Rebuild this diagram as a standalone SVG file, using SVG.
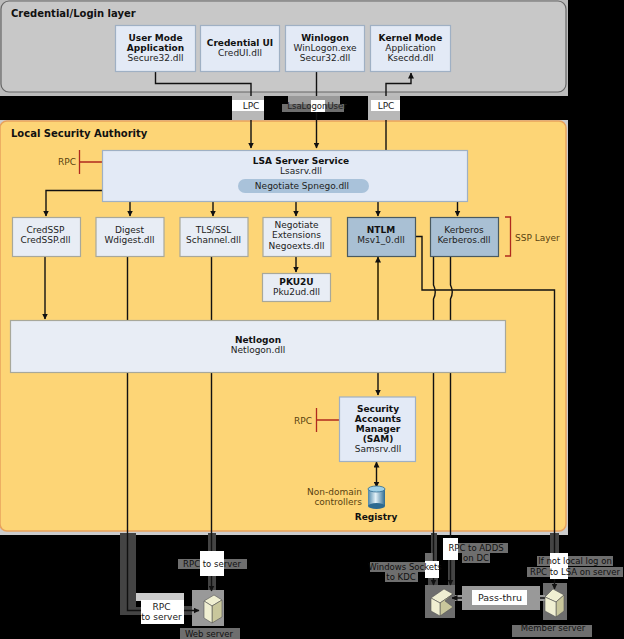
<svg xmlns="http://www.w3.org/2000/svg" width="624" height="639" viewBox="0 0 624 639">
<style>
text{font-family:"DejaVu Sans",Verdana,sans-serif;font-size:9px;fill:#222;text-anchor:middle}
.b{font-weight:bold;fill:#111}
.h{font-size:10px}
.l{text-anchor:start}
.e{text-anchor:end}
.o{fill:#5a4310}
.box{fill:#e3eaf6;stroke:#9fb0c4;stroke-width:1.2}
.pale{fill:#e8edf5;stroke:#a8a89a;stroke-width:1.2}
.dark{fill:#a9c0d4;stroke:#4a5a60;stroke-width:1.2}
.c{fill:none;stroke:#111;stroke-width:1.4}
.k{fill:none;stroke:#000;stroke-width:1.4}
.r{fill:none;stroke:#b02a1e;stroke-width:1.3}
.w{fill:#fff}
.p{fill:#6e6e6e}
.q{fill:#444}
.m{fill:#999}
.lt{fill:#ccc}
.s{fill:#f0efd2;stroke:#555;stroke-width:.6}
.f{fill:#c9c79c;stroke:#555;stroke-width:.6}
.t{fill:#111;font-size:8.500px}
</style>
<defs>
<marker id="a" viewBox="0 0 6 6" refX="5.500" refY="3" markerWidth="6" markerHeight="6" orient="auto-start-reverse" markerUnits="userSpaceOnUse"><path d="M0 0L6 3L0 6Z" fill="#111"/></marker>
<linearGradient id="cyl" x1="0" x2="1" y1="0" y2="0"><stop offset="0" stop-color="#4d86a8"/><stop offset=".45" stop-color="#e4f2f8"/><stop offset="1" stop-color="#2d6a90"/></linearGradient>
</defs>
<rect width="624" height="639" fill="#000"/>
<g id="credential-layer"><rect x="0" y="0" width="568" height="96" fill="#bbb"/><rect x="1" y="1" width="565" height="91" rx="8" fill="#c8c8c8" stroke="#666" stroke-width="1.2"/><text class="b l h" x="11" y="17">Credential/Login layer</text></g>
<g id="lsa"><rect x="0" y="120" width="568" height="415" fill="#ccc"/><rect x="0" y="121" width="566" height="410" rx="7" fill="#fdd576" stroke="#e8a25c" stroke-width="1.500"/><text class="b l h" x="11" y="137">Local Security Authority</text></g>

<g id="halos">
<rect class="q" x="120" y="533" width="16" height="82"/>
<rect class="q" x="120" y="607" width="22" height="8"/>
<rect class="q" x="183" y="606" width="12" height="9"/>
<rect class="q" x="208" y="533" width="8" height="18"/>
<rect class="q" x="208" y="575" width="8" height="16"/>
<rect class="q" x="431" y="533" width="6" height="28"/>
<rect class="p" x="425" y="553" width="8" height="9"/>
<rect class="q" x="448" y="560" width="7" height="26"/>
<rect class="q" x="428" y="578" width="10" height="8"/>
<rect class="q" x="550" y="533" width="9" height="20"/>
<rect class="m" x="192" y="590" width="32" height="36"/>
<rect class="p" x="425" y="585" width="30" height="33"/>
<rect class="p" x="543" y="583" width="24" height="37"/>
<rect class="m" x="455" y="595" width="90" height="6"/>
</g>

<g id="connectors">
<path class="c" d="M155.500 71V83.500H251V148" marker-end="url(#a)"/>
<path class="c" d="M316.500 71V148" marker-end="url(#a)"/>
<path class="c" d="M386 156V83.500H411V73" marker-end="url(#a)"/>
<path class="c" d="M102 190.500H46V216" marker-end="url(#a)"/>
<path class="c" d="M130 201V216" marker-end="url(#a)"/>
<path class="c" d="M213 201V216" marker-end="url(#a)"/>
<path class="c" d="M296 201V216" marker-end="url(#a)"/>
<path class="c" d="M369 182.500H457.500V216" marker-end="url(#a)"/>
<path class="c" d="M369 188.500H378V216" marker-end="url(#a)"/>
<path class="c" d="M296 256V272" marker-end="url(#a)"/>
<path class="c" d="M45 256V319" marker-end="url(#a)"/>
<path d="M378 320V257" marker-end="url(#a)" fill="none" stroke="#4a3a10" stroke-width="1.800"/>
<path class="c" d="M378 372V395" marker-end="url(#a)" stroke="#4a3a10"/>
<path class="c" d="M376.500 462V487" marker-start="url(#a)" marker-end="url(#a)"/>
<path class="c" d="M127.500 256V320M127.500 372V610.500H199" marker-end="url(#a)"/>
<path class="c" d="M211.500 256V320M211.500 372V591" marker-end="url(#a)"/>
<path class="c" d="M433.500 256V285Q437 292 433.500 299V320M433.500 372V585" marker-end="url(#a)"/>
<path class="c" d="M450.500 256V285Q454 292 450.500 299V320M450.500 372V585" marker-end="url(#a)"/>
<path class="c" d="M415 236.500H422V290H554.500V589" marker-end="url(#a)"/>
<path class="c" d="M545 598H452" marker-end="url(#a)"/>
</g>

<g id="rpc-top"><path class="r" d="M79.500 150V174M79.500 162H102"/><text class="o e" x="76" y="165">RPC</text></g>
<g id="rpc-sam"><path class="r" d="M316.500 408V432M316.500 420H339"/><text class="o e" x="312" y="424">RPC</text></g>
<g id="ssp-layer"><path class="r" d="M505 217H510.500V256H505" stroke-width="1.500"/><text class="o l" x="515" y="241">SSP Layer</text></g>

<g id="user-mode"><rect class="box" x="115.500" y="25.500" width="80" height="46"/><text class="b" x="155.500" y="41">User Mode</text><text class="b" x="155.500" y="51">Application</text><text x="155.500" y="61">Secure32.dll</text></g>
<g id="credential-ui"><rect class="box" x="200.500" y="25.500" width="79" height="46"/><text class="b" x="240" y="46">Credential UI</text><text x="240" y="56">CredUI.dll</text></g>
<g id="winlogon"><rect class="box" x="285.500" y="25.500" width="79" height="46"/><text class="b" x="325" y="41">Winlogon</text><text x="325" y="51">WinLogon.exe</text><text x="325" y="61">Secur32.dll</text></g>
<g id="kernel-mode"><rect class="box" x="370.500" y="25.500" width="80" height="46"/><text class="b" x="410.500" y="41">Kernel Mode</text><text x="410.500" y="51">Application</text><text x="410.500" y="61">Ksecdd.dll</text></g>

<g id="lpc-1"><rect x="232" y="96" width="32" height="24" fill="#b8b8b8"/><rect x="232" y="100" width="32" height="11" class="w"/><text x="251" y="109">LPC</text></g>
<g id="lpc-2"><rect x="288" y="96" width="52" height="16" class="m"/><rect x="282" y="104" width="62" height="8" class="p"/><rect x="311" y="100" width="14" height="12" class="w"/><text x="317" y="109" style="font-size:8.500px">LsaLogonUser</text></g>
<g id="lpc-3"><rect x="368" y="96" width="32" height="24" fill="#b8b8b8"/><rect x="371" y="100" width="29" height="11" class="w"/><text x="386" y="109">LPC</text></g>

<g id="lsa-server"><rect class="box" x="102.500" y="150.500" width="365" height="51"/><text class="b" x="301" y="164">LSA Server Service</text><text x="301" y="174">Lsasrv.dll</text></g>
<g id="negotiate"><rect x="238" y="179" width="131" height="14" rx="7" fill="#a9c2da"/><text x="302" y="189">Negotiate Spnego.dll</text></g>
<g id="credssp"><rect class="pale" x="12.500" y="217.500" width="68" height="39"/><text x="45.500" y="233">CredSSP</text><text x="45.500" y="243">CredSSP.dll</text></g>
<g id="digest"><rect class="pale" x="96" y="217.500" width="68" height="39"/><text x="129.500" y="233">Digest</text><text x="129.500" y="243">Wdigest.dll</text></g>
<g id="tls"><rect class="pale" x="180" y="217.500" width="68" height="39"/><text x="213.500" y="233">TLS/SSL</text><text x="213.500" y="243">Schannel.dll</text></g>
<g id="negoexts"><rect class="pale" x="263" y="217.500" width="68" height="39"/><text x="296.500" y="228">Negotiate</text><text x="296.500" y="238">Extensions</text><text x="296.500" y="249">Negoexts.dll</text></g>
<g id="ntlm"><rect class="dark" x="347.500" y="217.500" width="68" height="39"/><text class="b" x="381" y="233">NTLM</text><text x="381" y="243">Msv1_0.dll</text></g>
<g id="kerberos"><rect class="dark" x="430.500" y="217.500" width="68" height="39"/><text x="464" y="233">Kerberos</text><text x="464" y="243">Kerberos.dll</text></g>
<g id="pku2u"><rect class="pale" x="262.500" y="273.500" width="68" height="28"/><text class="b" x="296.500" y="285">PKU2U</text><text x="296.500" y="295">Pku2ud.dll</text></g>
<g id="netlogon"><rect class="pale" x="10.500" y="320.500" width="495" height="52"/><text class="b" x="258" y="343">Netlogon</text><text x="258" y="353">Netlogon.dll</text></g>
<g id="sam"><rect class="box" x="339.500" y="397" width="76" height="64.500"/><text class="b" x="378" y="412">Security</text><text class="b" x="378" y="422">Accounts</text><text class="b" x="378" y="432">Manager</text><text class="b" x="378" y="442">(SAM)</text><text x="378" y="452">Samsrv.dll</text></g>
<g id="registry"><rect x="368" y="489" width="17" height="17" fill="url(#cyl)"/><ellipse cx="376.500" cy="506" rx="8.500" ry="3" fill="#2d6a90"/><ellipse cx="376.500" cy="489" rx="8.500" ry="3" fill="#9fd0e6" stroke="#2d6a90" stroke-width=".8"/><text class="b" x="376" y="520">Registry</text><text class="o e" x="362" y="495">Non-domain</text><text class="o e" x="362" y="505">controllers</text></g>

<g id="rpc-server-1"><rect x="136" y="593" width="48" height="8" class="lt"/><rect x="141" y="600" width="43" height="24" class="w"/><text x="161.500" y="610">RPC</text><text x="161.500" y="620">to server</text></g>
<g id="rpc-server-2"><rect x="200" y="551" width="24" height="25" class="w"/><rect x="178" y="559" width="22" height="10" class="p"/><rect x="224" y="559" width="23" height="10" class="p"/><text x="212" y="567" class="t">RPC to server</text></g>
<g id="web-server"><path class="s" d="M204 601L214 595L222 600L212 606Z"/><path class="f" d="M222 600V617L212 623V606Z"/><path class="s" d="M204 601V618L212 623V606Z"/><rect x="180" y="628" width="60" height="11" class="p"/><text x="209" y="637" class="t">Web server</text></g>
<g id="dc"><path class="s" d="M431 598L444 589L453 594L440 603Z"/><path class="f" d="M453 594L445 601L453 607L440 616V603Z"/><path class="s" d="M431 598V611L440 616V603Z"/></g>
<g id="member-server"><path class="s" d="M545 597L553 589L564 595L556 602Z"/><path class="f" d="M564 595V611L556 617V602Z"/><path class="s" d="M545 597V611L556 617V602Z"/><rect x="512" y="625" width="80" height="12" class="p"/><text x="553" y="631" class="t">Member server</text></g>
<g id="sockets-label"><rect x="370" y="562" width="55" height="10" class="p"/><rect x="425" y="561" width="14" height="17" class="w"/><rect x="385" y="572" width="33" height="10" class="p"/><text x="405" y="570" class="t">Windows Sockets</text><text x="401" y="580" class="t">to KDC</text></g>
<g id="rpc-ad-label"><rect x="458" y="543" width="50" height="10" class="p"/><rect x="462" y="553" width="28" height="10" class="p"/><rect x="443" y="538" width="15" height="22" class="w"/><text x="476" y="551" class="t">RPC to ADDS</text><text x="476" y="561" class="t">on DC</text></g>
<g id="local-label"><rect x="537" y="556" width="76" height="10" class="p"/><rect x="527" y="567" width="96" height="10" class="p"/><rect x="550" y="553" width="18" height="26" class="w"/><text x="575" y="564" class="t">If not local log on</text><text x="575" y="575" class="t">RPC to LSA on server</text></g>
<g id="pass-thru"><rect x="462" y="586" width="78" height="24" class="m"/><rect x="472" y="590" width="55" height="15" class="w"/><text x="500" y="601" style="font-size:9.500px">Pass-thru</text></g>
</svg>
